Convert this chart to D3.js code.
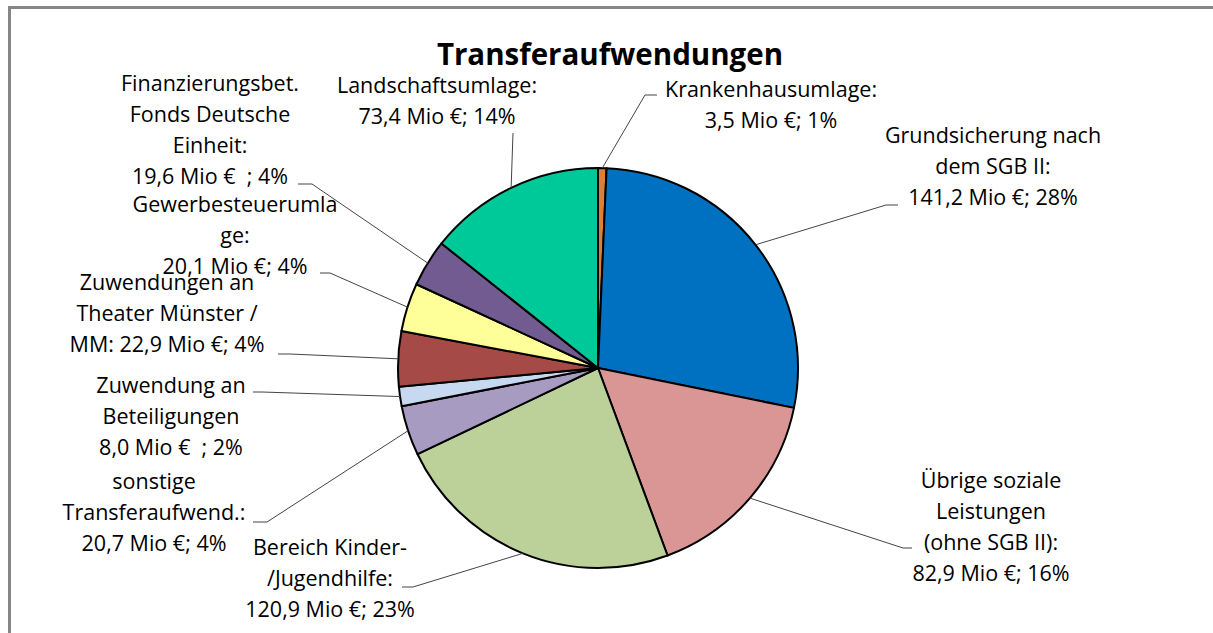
<!DOCTYPE html>
<html>
<head>
  <meta charset="UTF-8">
  <title>Transferaufwendungen</title>
  <style>
  body { margin:0; background:#fff; }
  text { font-family:"Open Sans",sans-serif; white-space:pre; }
  </style>
</head>
<body>
  <div id="chart"></div>
  <script src="https://d3js.org/d3.v7.min.js" charset="utf-8"></script>
  <script type="text/javascript">
    // clockwise from 12 o'clock
    var categories = ["Krankenhausumlage", "Grundsicherung SGB II", "Übrige soziale Leistungen",
      "Kinder-/Jugendhilfe", "sonstige Transferaufwend.", "Zuwendung an Beteiligungen",
      "Theater Münster / MM", "Gewerbesteuerumlage", "Fonds Deutsche Einheit", "Landschaftsumlage"];
    var values = [3.5, 141.2, 82.9, 120.9, 20.7, 8.0, 22.9, 20.1, 19.6, 73.4];
    var labelLines = [
      ["Krankenhausumlage:", "3,5 Mio €; 1%"],
      ["Grundsicherung nach", "dem SGB II:", "141,2 Mio €; 28%"],
      ["Übrige soziale", "Leistungen", "(ohne SGB II):", "82,9 Mio €; 16%"],
      ["Bereich Kinder-", "/Jugendhilfe:", "120,9 Mio €; 23%"],
      ["sonstige", "Transferaufwend.:", "20,7 Mio €; 4%"],
      ["Zuwendung an", "Beteiligungen", "8,0 Mio €  ; 2%"],
      ["Zuwendungen an", "Theater Münster /", "MM: 22,9 Mio €; 4%"],
      ["Gewerbesteuerumla", "ge:", "20,1 Mio €; 4%"],
      ["Finanzierungsbet.", "Fonds Deutsche", "Einheit:", "19,6 Mio €  ; 4%"],
      ["Landschaftsumlage:", "73,4 Mio €; 14%"]
    ];

    var colors = ["#DA8137", "#0070C0", "#D99694", "#BCD199", "#A89BC2",
                  "#C6D9F0", "#A54A47", "#FFFF99", "#715B90", "#00C999"];

    // label placement: text centre x, first baseline, leader elbow and end
    var layout = [
      {x: 771, y: 97,  elbow: [645, 95],  end: [657, 95]},
      {x: 993, y: 143, elbow: [886, 205], end: [898, 205]},
      {x: 991, y: 488, elbow: [903, 548], end: [912, 548]},
      {x: 330, y: 555, elbow: [413, 587], end: [402, 587]},
      {x: 154, y: 489, elbow: [267, 522], end: [253, 522]},
      {x: 171, y: 393, elbow: [262, 392], end: [253, 392]},
      {x: 167, y: 290, elbow: [290, 354], end: [278, 354]},
      {x: 235, y: 212, elbow: [330, 273], end: [320, 273]},
      {x: 210, y: 91,  elbow: [312, 184], end: [298, 184]},
      {x: 437, y: 93,  elbow: [513, 133], end: [513, 133]}
    ];

    var W = 1213, H = 633,
        cx = 598, cy = 368, r = 200,
        lineH = 31;

    var svg = d3.select("#chart").append("svg")
      .attr("width", W)
      .attr("height", H);

    // chart frame (right and bottom edges run off the picture)
    svg.append("rect")
      .attr("x", 9.5).attr("y", 7.5)
      .attr("width", W + 20).attr("height", H + 20)
      .attr("fill", "none")
      .attr("stroke", "#868686")
      .attr("stroke-width", 3);

    svg.append("text")
      .attr("x", 610)
      .attr("y", 65)
      .attr("text-anchor", "middle")
      .attr("font-weight", "bold")
      .attr("font-size", 29.5)
      .attr("fill", "#000")
      .text("Transferaufwendungen");

    var data = categories.map(function(c, i) { return {name: c, value: values[i], i: i}; });

    var pie = d3.pie()
      .sort(null)
      .value(function(d) { return d.value; });

    var arc = d3.arc().innerRadius(0).outerRadius(r);
    var edge = d3.arc().innerRadius(r).outerRadius(r);

    var arcs = pie(data);

    var g = svg.append("g").attr("transform", "translate(" + cx + "," + cy + ")");

    g.selectAll("path.slice")
      .data(arcs)
      .enter().append("path")
        .attr("class", "slice")
        .attr("d", arc)
        .attr("fill", function(d) { return colors[d.data.i]; })
        .attr("stroke", "#000")
        .attr("stroke-width", 2)
        .attr("stroke-linejoin", "round");

    // leader lines
    svg.selectAll("path.leader")
      .data(arcs)
      .enter().append("path")
        .attr("class", "leader")
        .attr("fill", "none")
        .attr("stroke", "#444")
        .attr("stroke-width", 1)
        .attr("d", function(d) {
          var p = edge.centroid(d), L = layout[d.data.i];
          return d3.line()([[cx + p[0], cy + p[1]], L.elbow, L.end]);
        });

    // labels
    var lbl = svg.selectAll("text.label")
      .data(arcs)
      .enter().append("text")
        .attr("class", "label")
        .attr("text-anchor", "middle")
        .attr("font-size", 21.5)
        .attr("fill", "#000");

    lbl.each(function(d) {
      var L = layout[d.data.i];
      d3.select(this).selectAll("tspan")
        .data(labelLines[d.data.i])
        .enter().append("tspan")
          .attr("x", L.x)
          .attr("y", function(t, k) { return L.y + k * lineH; })
          .text(function(t) { return t; });
    });
  </script>
</body>
</html>
